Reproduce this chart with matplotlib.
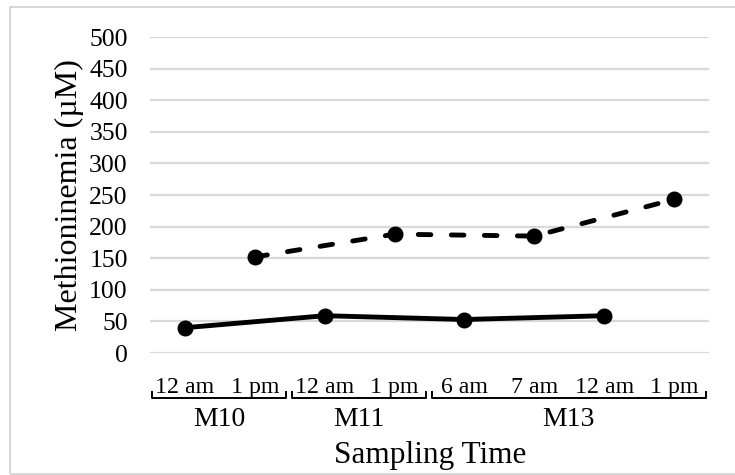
import matplotlib
matplotlib.use("Agg")
import matplotlib.pyplot as plt
import matplotlib.transforms as mtransforms
from matplotlib.patches import Rectangle

# ---- data ----
time_labels = ["12 am", "1 pm", "12 am", "1 pm", "6 am", "7 am", "12 am", "1 pm"]
groups = ["M10", "M11", "M13"]
group_ranges = [(0, 1), (2, 3), (4, 7)]
solid_idx = [0, 2, 4, 6]
solid_vals = [40, 59, 53, 59]
dashed_idx = [1, 3, 5, 7]
dashed_vals = [152, 188, 185, 243]
y_ticks = [0, 50, 100, 150, 200, 250, 300, 350, 400, 450, 500]

plt.rcParams['font.family'] = ['Liberation Serif', 'DejaVu Serif']

fig = plt.figure(figsize=(7.35, 4.75), dpi=100)
W, H = 735, 475
ax = fig.add_axes([150 / W, 1 - 353 / H, (709 - 150) / W, (353 - 37) / H])

# frame border around figure (right side runs off the image)
fig.patches.append(Rectangle((10 / W, 1 - 474 / H), (745 - 10) / W, (474 - 7) / H,
                             transform=fig.transFigure, fill=False,
                             edgecolor='#d0d0d0', linewidth=1.2))

ax.set_xlim(-0.5, len(time_labels) - 0.5)
ax.set_ylim(0, 500)
ax.set_yticks(y_ticks)
ax.yaxis.grid(True, color='#d9d9d9', linewidth=1.6)
ax.set_axisbelow(True)
for s in ax.spines.values():
    s.set_visible(False)

ax.plot(solid_idx, solid_vals, color='black', linewidth=3.5, marker='o',
        markersize=10.5, solid_capstyle='round', clip_on=False)
ax.plot(dashed_idx, dashed_vals, color='black', linewidth=3.5, marker='o',
        markersize=10.5, dashes=(2.6, 4.2), dash_capstyle='round', clip_on=False)

ax.set_xticks(range(len(time_labels)))
ax.set_xticklabels(time_labels, fontsize=17.2)
ax.tick_params(axis='x', length=0, pad=17)
ax.tick_params(axis='y', length=0, pad=16, labelsize=18.5)

ax.set_ylabel("Methioninemia (\u00b5M)", fontsize=23, labelpad=4)

# group brackets and labels
trans = mtransforms.blended_transform_factory(ax.transData, ax.transAxes)
y_line = (353 - 398) / 316
y_tip = (353 - 392) / 316
for name, (a, b) in zip(groups, group_ranges):
    x0 = a - 0.5 + 0.03
    x1 = b + 0.5 - 0.05
    ax.plot([x0, x0, x1, x1], [y_tip, y_line, y_line, y_tip], color='black',
            linewidth=1.4, transform=trans, clip_on=False)
    ax.text((x0 + x1) / 2, (353 - 419) / 316, name, transform=trans,
            ha='center', va='center', fontsize=20)

fig.text(430 / W, 1 - 455 / H, "Sampling Time", ha='center', va='center', fontsize=22.5)

fig.savefig("out.png", dpi=100)
